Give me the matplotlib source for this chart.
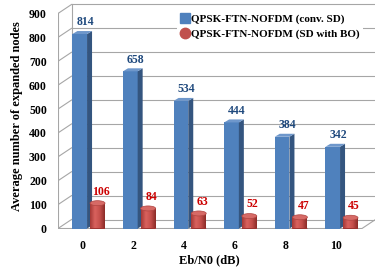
import numpy as np
import matplotlib
matplotlib.use("Agg")
import matplotlib.pyplot as plt
from matplotlib.patches import Polygon, Ellipse
from matplotlib.lines import Line2D
from matplotlib.colors import LinearSegmentedColormap

# data
snr_labels = ["0", "2", "4", "6", "8", "10"]
conv_sd = [814, 658, 534, 444, 384, 342]
sd_bo = [106, 84, 63, 52, 47, 45]
yticks = [0, 100, 200, 300, 400, 500, 600, 700, 800, 900]
series_names = ["QPSK-FTN-NOFDM (conv. SD)", "QPSK-FTN-NOFDM (SD with BO)"]

plt.rcParams['font.family'] = ['Liberation Serif', 'DejaVu Serif']
plt.rcParams['font.weight'] = 'bold'

W, H = 382, 271
fig = plt.figure(figsize=(W / 100, H / 100), dpi=100)
fig.patch.set_facecolor('white')
ax = fig.add_axes([58 / W, (H - 229) / H, 317 / W, 226 / H])

ppx = 50.6     # pixels per category
ppy = 0.2389   # pixels per value unit
ax.set_xlim(-25 / ppx, -25 / ppx + 317 / ppx)
ax.set_ylim(-0.5 / ppy, -0.5 / ppy + 226 / ppy)
for s in ax.spines.values():
    s.set_visible(False)
ax.patch.set_alpha(0)

# 3d box geometry (depth offsets)
ddx = 13.5 / ppx
ddy = 9 / ppy
xl = ax.get_xlim()[0]
xr = (362 - 83) / ppx
gc = '#A6A6A6'
top = yticks[-1]

# back wall gridlines, left wall diagonals
for t in yticks:
    ax.plot([xl + ddx, xr + ddx], [t + ddy, t + ddy], color=gc, lw=0.8, zorder=1)
    ax.plot([xl, xl + ddx], [t, t + ddy], color=gc, lw=0.8, zorder=1)
ax.plot([xl, xl], [0, top], color=gc, lw=0.8, zorder=1)
ax.plot([xl + ddx, xl + ddx], [ddy, top + ddy], color=gc, lw=0.8, zorder=1)
ax.plot([xr + ddx, xr + ddx], [ddy, top + ddy], color=gc, lw=0.8, zorder=1)
# floor
ax.plot([xl, xr, xr + ddx], [0, 0, ddy], color=gc, lw=0.8, zorder=1)

x = np.arange(len(snr_labels))

# blue boxes
bw = 0.29
bx0 = x - 0.21
bdx, bdy = 5 / ppx, 3 / ppy
ax.bar(bx0 + bw / 2, conv_sd, width=bw, color='#4F81BD', zorder=3, linewidth=0)
for xi, v in zip(bx0, conv_sd):
    side = Polygon([(xi + bw, 0), (xi + bw + bdx, bdy), (xi + bw + bdx, v + bdy), (xi + bw, v)],
                   closed=True, facecolor='#34557F', edgecolor='none', zorder=3)
    topf = Polygon([(xi, v), (xi + bw, v), (xi + bw + bdx, v + bdy), (xi + bdx, v + bdy)],
                   closed=True, facecolor='#6E97CB', edgecolor='none', zorder=3)
    ax.add_patch(side)
    ax.add_patch(topf)
    ax.text(xi + bw / 2 + 0.11, v + 36, str(v), color='#1F497D', fontsize=8.5,
            fontweight='bold', ha='center', va='baseline', zorder=6)

# red cylinders
cw = 0.296
cx = x + 0.287
eh = 5 / ppy
cmap = LinearSegmentedColormap.from_list('cyl', ['#A53936', '#D9625E', '#C44F4B', '#8A2B28'])
grad = np.linspace(0, 1, 64).reshape(1, -1)
bars = ax.bar(cx, sd_bo, width=cw, color='#C0504D', zorder=4, linewidth=0)
for c, v, b in zip(cx, sd_bo, bars):
    im = ax.imshow(grad, extent=[c - cw / 2, c + cw / 2, 0, v], aspect='auto',
                   cmap=cmap, zorder=4.5, interpolation='bilinear')
    im.set_clip_path(b)
    ax.add_patch(Ellipse((c, 0), cw, eh, facecolor='#9E3532', edgecolor='none', zorder=4.4))
    ax.add_patch(Ellipse((c, v), cw, eh, facecolor='#D66A66', edgecolor='#B04441',
                         lw=0.5, zorder=5))
    ax.text(c + 0.07, v + 36, str(v), color='#CC0000', fontsize=8.5,
            fontweight='bold', ha='center', va='baseline', zorder=6)

ax.set_xlim(-25 / ppx, -25 / ppx + 317 / ppx)
ax.set_ylim(-0.5 / ppy, -0.5 / ppy + 226 / ppy)

ax.set_yticks(yticks)
ax.set_yticklabels([str(t) for t in yticks], fontsize=8.5, fontweight='bold')
ax.set_xticks(x)
ax.set_xticklabels(snr_labels, fontsize=8.5, fontweight='bold')
ax.tick_params(axis='y', length=0, pad=8)
ax.tick_params(axis='x', length=0, pad=8)

ax.set_ylabel("Average number of expanded nodes", fontsize=9, fontweight='bold', labelpad=4)
ax.set_xlabel("Eb/N0 (dB)", fontsize=9, fontweight='bold')
ax.xaxis.set_label_coords((209 - 58) / 317, -(254 - 229) / 226)

handles = [Line2D([], [], marker='s', color='#4F81BD', markersize=6.5, linestyle='none'),
           Line2D([], [], marker='o', color='#C0504D', markersize=7.5, linestyle='none')]
leg = fig.legend(handles, series_names, loc='upper left',
                 bbox_to_anchor=(177 / W, 1 - 11 / H), bbox_transform=fig.transFigure,
                 prop={'family': 'Liberation Serif', 'weight': 'bold', 'size': 8},
                 handlelength=0.8, handletextpad=0.2, borderpad=0.3, labelspacing=0.45,
                 frameon=True, fancybox=False, borderaxespad=0)
leg.get_frame().set_facecolor('white')
leg.get_frame().set_edgecolor('none')
leg.get_frame().set_alpha(1)

fig.savefig("out.png", dpi=100)
